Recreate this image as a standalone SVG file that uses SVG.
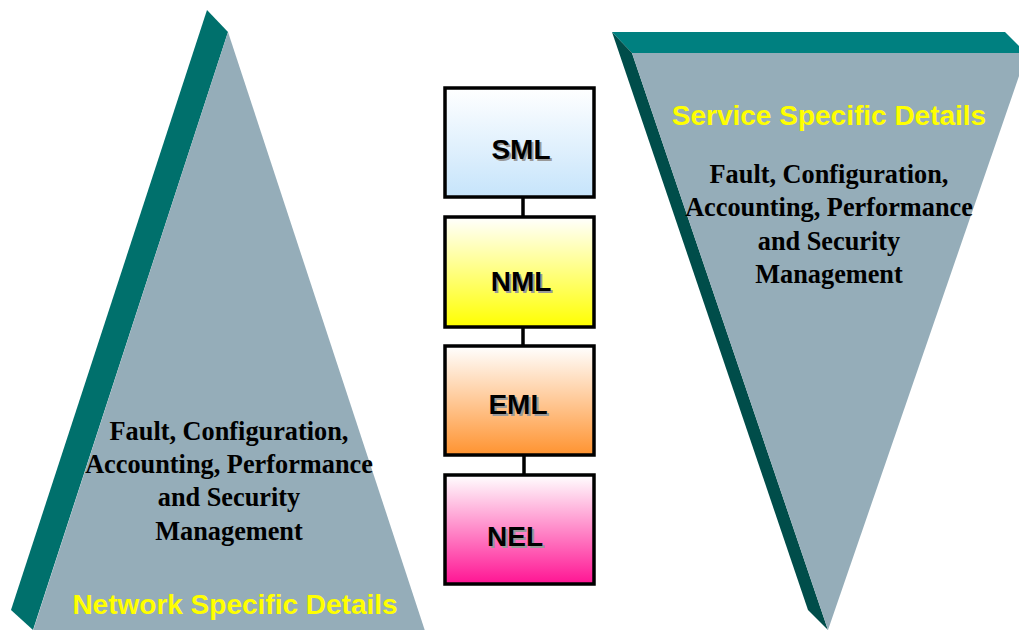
<svg xmlns="http://www.w3.org/2000/svg" width="1019" height="630" viewBox="0 0 1019 630">
<defs>
<linearGradient id="gSML" x1="0" y1="0" x2="0" y2="1"><stop offset="0" stop-color="#ffffff"/><stop offset="1" stop-color="#c6e4fb"/></linearGradient>
<linearGradient id="gNML" x1="0" y1="0" x2="0" y2="1"><stop offset="0" stop-color="#ffffff"/><stop offset="1" stop-color="#ffff00"/></linearGradient>
<linearGradient id="gEML" x1="0" y1="0" x2="0" y2="1"><stop offset="0" stop-color="#ffffff"/><stop offset="1" stop-color="#ff9330"/></linearGradient>
<linearGradient id="gNEL" x1="0" y1="0" x2="0" y2="1"><stop offset="0" stop-color="#ffffff"/><stop offset="1" stop-color="#ff1493"/></linearGradient>
<style>
.box{stroke:#000;stroke-width:3.5}
.lbl{font-family:"Liberation Sans",Arial,sans-serif;font-weight:bold;font-size:28px;fill:#000;text-anchor:middle}
.shadow{font-family:"Liberation Sans",Arial,sans-serif;font-weight:bold;font-size:28px;fill:#999;text-anchor:middle}
.ser{font-family:"Liberation Serif","Times New Roman",serif;font-weight:bold;font-size:26.3px;fill:#000;text-anchor:middle}
.yel{font-family:"Liberation Sans",Arial,sans-serif;font-weight:bold;font-size:28px;fill:#ffff00;text-anchor:middle}
.gray{fill:#95adb9}
.conn{stroke:#000;stroke-width:3.5}
</style>
</defs>
<rect width="1019" height="630" fill="#fff"/>
<g id="left-pyramid">
<polygon points="207,10 228,32 33,630 11,610" fill="#00706c"/>
<polygon class="gray" points="228,32 428,640 30,640"/>
<text class="ser" x="229" y="440">Fault, Configuration,</text>
<text class="ser" x="229" y="473">Accounting, Performance</text>
<text class="ser" x="229" y="506">and Security</text>
<text class="ser" x="229" y="540">Management</text>
<text class="yel" x="235" y="614">Network Specific Details</text>
</g>
<g id="right-pyramid">
<polygon points="612,32 1005,32 1019,46 1019,53 632,53" fill="#008080"/>
<polygon points="612,32 632,53 828,630 808,610" fill="#004d4a"/>
<polygon class="gray" points="632,53 1019,53 1019,76 828,630"/>
<text class="yel" x="829" y="125">Service Specific Details</text>
<text class="ser" x="829" y="183">Fault, Configuration,</text>
<text class="ser" x="829" y="216">Accounting, Performance</text>
<text class="ser" x="829" y="250">and Security</text>
<text class="ser" x="829" y="283">Management</text>
</g>
<g id="connectors">
<line class="conn" x1="523" y1="198" x2="523" y2="216"/>
<line class="conn" x1="523" y1="328" x2="523" y2="345"/>
<line class="conn" x1="524" y1="456" x2="524" y2="474"/>
</g>
<g id="SML">
<rect class="box" x="445" y="88" width="149" height="109" fill="url(#gSML)"/>
<text class="shadow" x="523" y="161">SML</text>
<text class="lbl" x="521" y="159">SML</text>
</g>
<g id="NML">
<rect class="box" x="445" y="217" width="149" height="110" fill="url(#gNML)"/>
<text class="shadow" x="523" y="293">NML</text>
<text class="lbl" x="521" y="291">NML</text>
</g>
<g id="EML">
<rect class="box" x="445" y="346" width="149" height="109" fill="url(#gEML)"/>
<text class="shadow" x="520" y="416">EML</text>
<text class="lbl" x="518" y="414">EML</text>
</g>
<g id="NEL">
<rect class="box" x="445" y="475" width="149" height="109" fill="url(#gNEL)"/>
<text class="shadow" x="517" y="548">NEL</text>
<text class="lbl" x="515" y="546">NEL</text>
</g>
</svg>
